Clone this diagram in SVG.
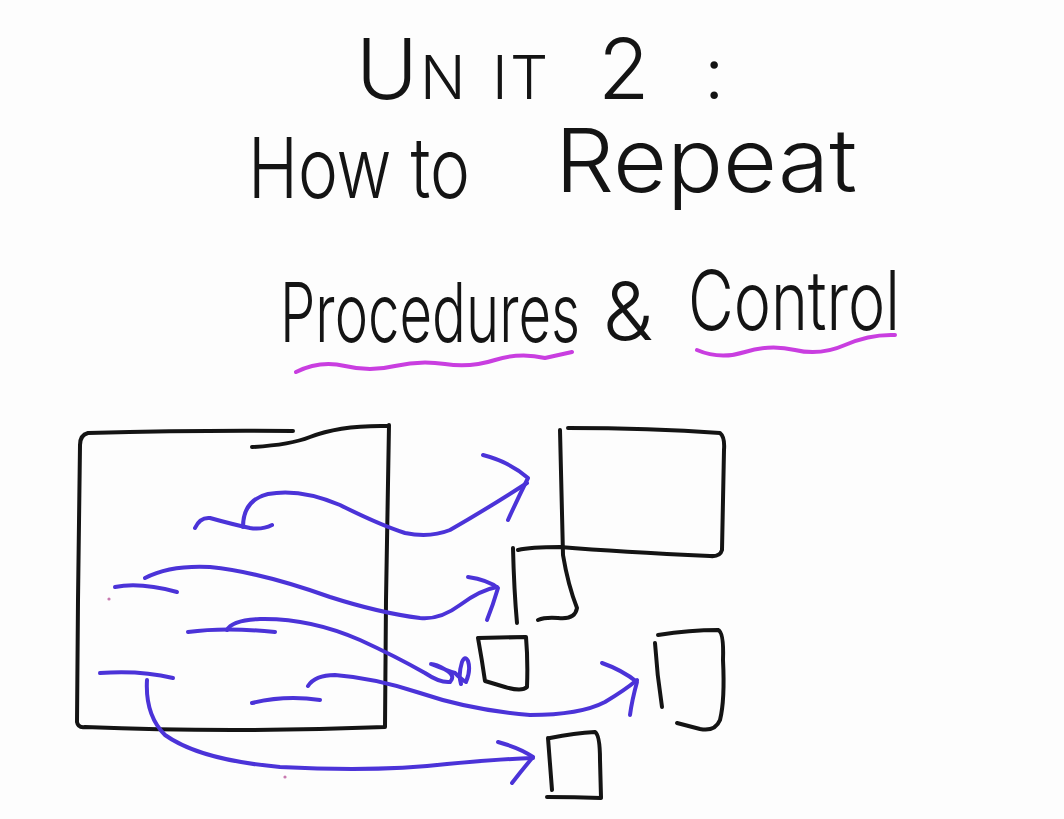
<svg xmlns="http://www.w3.org/2000/svg" width="1064" height="819" viewBox="0 0 1064 819">
<style>
.t{font-family:Inter,"Liberation Sans",sans-serif;font-weight:300;fill:#141414}
.k{fill:none;stroke:#141414;stroke-width:4;stroke-linecap:round;stroke-linejoin:round}
.b{fill:none;stroke:#4b33d8;stroke-width:4;stroke-linecap:round;stroke-linejoin:round}
.m{fill:none;stroke:#c93ee0;stroke-width:4;stroke-linecap:round;stroke-linejoin:round}
</style>
<rect width="1064" height="819" fill="#fdfdfd"/>
<g id="title">
<text class="t" y="99"><tspan x="356" font-size="84">U</tspan><tspan x="420" font-size="60">N</tspan><tspan x="492" font-size="60">I</tspan><tspan x="510" font-size="60">T </tspan><tspan x="598" font-size="84">2</tspan><tspan x="704" font-size="72">:</tspan></text>
<text class="t" x="248" y="198" font-size="84" textLength="222" lengthAdjust="spacingAndGlyphs">How to</text>
<text class="t" x="555" y="192" font-size="88" textLength="302" lengthAdjust="spacingAndGlyphs">Repeat</text>
</g>
<g id="subtitle">
<text class="t" transform="matrix(0.69 0 0 1 280 342)" x="0" y="0" font-size="82" textLength="435" lengthAdjust="spacingAndGlyphs">Procedures</text>
<text class="t" x="603" y="340" font-size="80" textLength="50" lengthAdjust="spacingAndGlyphs">&amp;</text>
<text class="t" x="688" y="330" font-size="82" textLength="212" lengthAdjust="spacingAndGlyphs">Control</text>
<path class="m" d="M296,372 Q320,360 345,366 T395,366 T445,364 T495,360 T545,358 L572,352"/>
<path class="m" d="M697,350 Q720,360 745,352 T795,350 T845,345 T895,335"/>
</g>
<g id="main-box">
<path class="k" d="M293,431 Q200,430 88,433 Q80,435 80,445 L78,600 L77,722 Q78,728 85,727 Q230,733 385,727 L386,600 L389,425"/>
<path class="k" d="M252,447 Q290,445 310,437 Q340,425 388,426"/>
</g>
<g id="box-top">
<path class="k" d="M560,430 Q562,520 563,555 Q568,585 577,608 Q575,620 558,618 Q545,617 538,620"/>
<path class="k" d="M568,428 Q650,428 720,433 Q725,437 724,450 L722,550 Q720,557 710,556 Q620,552 560,547 Q530,547 518,550"/>
<path class="k" d="M513,548 Q514,590 517,623"/>
</g>
<g id="box-small">
<path class="k" d="M478,638 L526,637 Q528,660 527,687 Q522,692 505,687 L485,681 Q482,660 478,638 Z"/>
</g>
<g id="box-right">
<path class="k" d="M655,643 Q657,675 662,707"/>
<path class="k" d="M658,635 Q690,630 718,630 Q724,632 723,660 Q725,700 720,720 Q715,732 700,729 L677,723"/>
</g>
<g id="box-bottom">
<path class="k" d="M548,738 Q550,765 552,790"/>
<path class="k" d="M550,738 Q575,733 595,732 Q600,735 600,760 L601,797"/>
<path class="k" d="M547,797 Q575,797 601,798"/>
</g>
<g id="connectors">
<path class="b" d="M195,528 Q200,517 210,518 Q235,525 250,528 Q262,530 272,525"/>
<path class="b" d="M243,527 Q243,500 268,494 Q300,488 340,505 Q380,525 405,533 Q430,538 450,530 Q485,510 527,483"/>
<path class="b" d="M483,455 Q510,462 528,478 Q518,498 508,520"/>
<path class="b" d="M115,587 Q140,582 177,592"/>
<path class="b" d="M145,578 Q170,565 210,567 Q260,572 330,597 Q380,613 420,618 Q440,620 460,605 Q480,590 497,587"/>
<path class="b" d="M468,577 Q488,580 498,588 Q493,605 487,620"/>
<path class="b" d="M188,632 Q225,627 275,632"/>
<path class="b" d="M227,630 Q232,620 260,619 Q310,618 360,640 Q395,656 425,673 Q440,683 450,682 Q456,676 446,670 Q436,664 431,664 Q446,670 455,673 Q462,680 466,682 Q471,670 468,661 Q465,655 462,662 Q458,675 461,684"/>
<path class="b" d="M252,703 Q285,695 320,700"/>
<path class="b" d="M308,686 Q315,675 335,675 Q375,678 420,693 Q470,710 530,715 Q580,715 605,702 Q625,690 637,680"/>
<path class="b" d="M602,663 Q622,670 637,682 Q632,700 630,715"/>
<path class="b" d="M100,673 Q140,670 173,678"/>
<path class="b" d="M147,680 Q145,715 165,735 Q200,760 280,767 Q380,772 447,764 Q500,759 533,758"/>
<path class="b" d="M498,742 Q520,748 533,757 Q522,770 512,783"/>
</g>
<circle cx="109" cy="599" r="1.6" fill="#c87ab0"/>
<circle cx="285" cy="777" r="1.6" fill="#c87ab0"/>
</svg>
